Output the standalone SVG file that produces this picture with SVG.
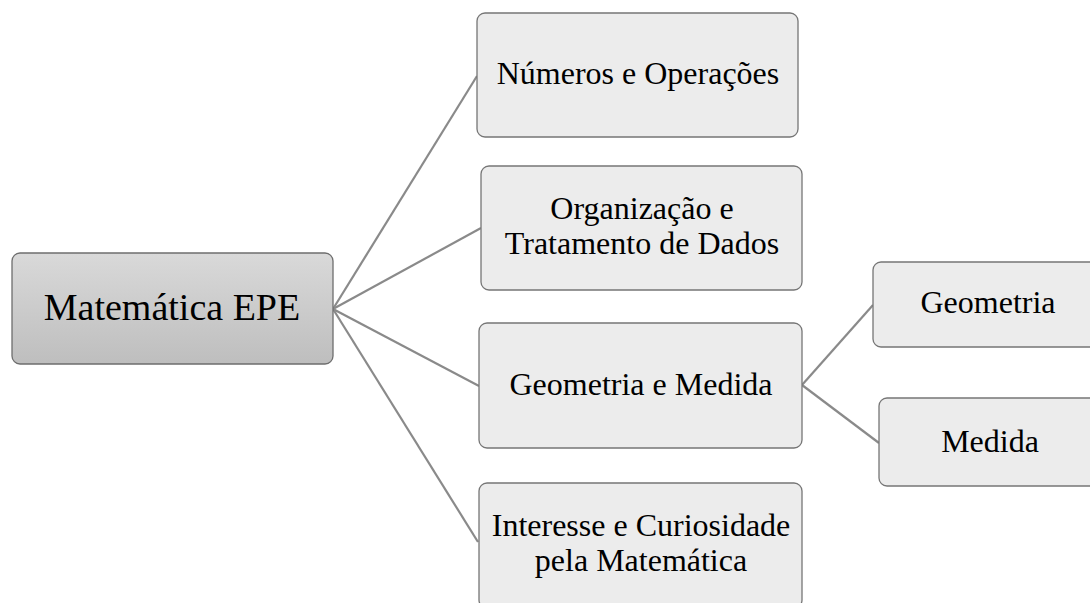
<svg xmlns="http://www.w3.org/2000/svg" width="1090" height="603" viewBox="0 0 1090 603">
  <style>
    .box { fill: #ececec; stroke: #767676; stroke-width: 1.3; }
    .root { fill: url(#rootFill); stroke: #6e6e6e; stroke-width: 1.3; }
    .lbl { font-family: 'Liberation Serif', 'Times New Roman', serif; font-size: 32px; fill: #000; text-anchor: middle; }
    .big { font-size: 38px; }
    .wire { stroke: #8a8a8a; stroke-width: 2.2; fill: none; }
  </style>
  <defs>
    <linearGradient id="rootFill" x1="0" y1="0" x2="0" y2="1">
      <stop offset="0" stop-color="#d9d9d9"/>
      <stop offset="1" stop-color="#bebebe"/>
    </linearGradient>
  </defs>

  <!-- tree connectors: root to the four areas, and the geometry branch to its two children -->
  <g id="connectors">
    <line class="wire" x1="333" y1="309" x2="477" y2="76"/>
    <line class="wire" x1="333" y1="309" x2="481" y2="228"/>
    <line class="wire" x1="333" y1="309" x2="479" y2="386"/>
    <line class="wire" x1="333" y1="309" x2="478" y2="542"/>
    <line class="wire" x1="802" y1="385" x2="873" y2="305"/>
    <line class="wire" x1="802" y1="385" x2="879" y2="443"/>
  </g>

  <g id="node-root">
    <rect class="root" x="12" y="253" width="321" height="111" rx="8"/>
    <text class="lbl big" x="172" y="320">Matemática EPE</text>
  </g>

  <g id="node-numeros">
    <rect class="box" x="477" y="13" width="321" height="124" rx="8"/>
    <text class="lbl" x="638" y="84">Números e Operações</text>
  </g>

  <g id="node-organizacao">
    <rect class="box" x="481" y="166" width="321" height="124" rx="8"/>
    <text class="lbl" x="642" y="219">Organização e</text>
    <text class="lbl" x="642" y="254">Tratamento de Dados</text>
  </g>

  <g id="node-geometria-medida">
    <rect class="box" x="479" y="323" width="323" height="125" rx="8"/>
    <text class="lbl" x="641" y="395">Geometria e Medida</text>
  </g>

  <g id="node-interesse">
    <rect class="box" x="479" y="483" width="323" height="125" rx="8"/>
    <text class="lbl" x="641" y="536">Interesse e Curiosidade</text>
    <text class="lbl" x="641" y="571">pela Matemática</text>
  </g>

  <g id="node-geometria">
    <rect class="box" x="873" y="262" width="232" height="85" rx="8"/>
    <text class="lbl" x="988" y="313">Geometria</text>
  </g>

  <g id="node-medida">
    <rect class="box" x="879" y="398" width="226" height="88" rx="8"/>
    <text class="lbl" x="990" y="452">Medida</text>
  </g>
</svg>
